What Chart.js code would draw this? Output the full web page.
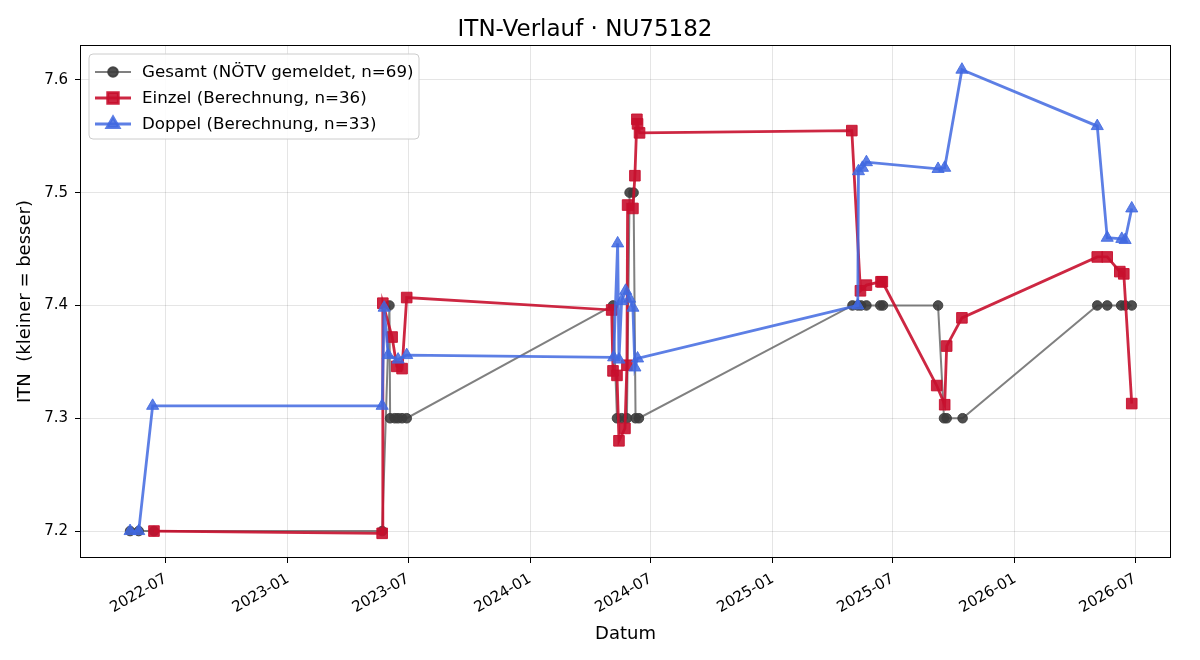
<!DOCTYPE html>
<html><head><meta charset="utf-8">
<script src="https://cdn.jsdelivr.net/npm/chart.js@4.4.1/dist/chart.umd.min.js"></script>
<style>html,body{margin:0;padding:0;background:#fff;}#wrap{width:1200px;height:660px;}</style>
</head><body><div id="wrap"><canvas id="c" width="1200" height="660"></canvas></div>
<script>
// ---------- DATA ----------
const gesamtDates = ['2022-05-08','2022-05-21','2022-06-13','2023-05-23','2023-06-03','2023-06-04','2023-06-11','2023-06-16','2023-06-22','2023-06-29',
  '2024-05-05','2024-05-11','2024-05-18','2024-05-26','2024-05-30','2024-06-05','2024-06-08','2024-06-13',
  '2025-05-01','2025-05-09','2025-05-14','2025-05-22','2025-06-12','2025-06-16','2025-09-07','2025-09-16','2025-09-20','2025-10-14',
  '2026-05-05','2026-05-20','2026-06-10','2026-06-16','2026-06-26'];
const gesamtValues = [7.2,7.2,7.2,7.2,7.4,7.3,7.3,7.3,7.3,7.3,
  7.4,7.3,7.3,7.3,7.5,7.5,7.3,7.3,
  7.4,7.4,7.4,7.4,7.4,7.4,7.4,7.3,7.3,7.3,
  7.4,7.4,7.4,7.4,7.4];

const einzelDates = ['2022-06-13','2023-05-23','2023-05-24','2023-06-07','2023-06-14','2023-06-22','2023-06-29',
  '2024-05-03','2024-05-05','2024-05-11','2024-05-14','2024-05-23','2024-05-26','2024-05-27','2024-06-04','2024-06-07','2024-06-10','2024-06-11','2024-06-14',
  '2025-04-30','2025-05-13','2025-05-22','2025-06-13','2025-06-15','2025-09-05','2025-09-17','2025-09-20','2025-10-13',
  '2026-05-05','2026-05-20','2026-06-08','2026-06-14','2026-06-26'];
const einzelValues = [7.200,7.198,7.402,7.372,7.346,7.344,7.407,
  7.396,7.342,7.338,7.280,7.291,7.347,7.489,7.486,7.515,7.565,7.561,7.553,
  7.555,7.413,7.418,7.421,7.421,7.329,7.312,7.364,7.389,
  7.443,7.443,7.430,7.428,7.313];

const doppelDates = ['2022-05-08','2022-05-21','2022-06-11','2023-05-23','2023-05-26','2023-06-01','2023-06-16','2023-06-29',
  '2024-05-06','2024-05-12','2024-05-14','2024-05-18','2024-05-24','2024-05-30','2024-06-04','2024-06-07','2024-06-11',
  '2025-05-09','2025-05-10','2025-05-16','2025-05-22','2025-09-07','2025-09-17','2025-10-13',
  '2026-05-05','2026-05-20','2026-06-11','2026-06-16','2026-06-26'];
const doppelValues = [7.200,7.200,7.311,7.311,7.398,7.356,7.352,7.356,
  7.354,7.455,7.352,7.404,7.413,7.406,7.398,7.345,7.353,
  7.400,7.519,7.522,7.527,7.521,7.522,7.609,
  7.559,7.460,7.459,7.458,7.486];

const xTickDates = ['2022-07-01','2023-01-01','2023-07-01','2024-01-01','2024-07-01','2025-01-01','2025-07-01','2026-01-01','2026-07-01'];
const yTicks = [7.2,7.3,7.4,7.5,7.6];
const seriesLabels = ['Gesamt (NÖTV gemeldet, n=69)','Einzel (Berechnung, n=36)','Doppel (Berechnung, n=33)'];

// ---------- HELPERS ----------
function ts(s){const [y,m,d]=s.split('-').map(Number);return Date.UTC(y,m-1,d);}
function pts(dates,vals){return dates.map((d,i)=>({x:ts(d),y:vals[i]}));}
function fmtMonth(v){const d=new Date(v);const m=d.getUTCMonth()+1;return d.getUTCFullYear()+'-'+(m<10?'0':'')+m;}

const FONT='DejaVu Sans';
const GRAY_L='rgba(85,85,85,0.75)', GRAY_P='rgba(60,60,60,0.9)';
const RED='rgba(200,16,46,0.9)';
const BLUE='rgba(65,105,225,0.85)';

const framePlugin={id:'frame',afterDatasetsDraw(chart){
  const a=chart.chartArea,ctx=chart.ctx;ctx.save();ctx.strokeStyle='#000';ctx.lineWidth=1;
  ctx.strokeRect(Math.round(a.left)-0.5,Math.round(a.top)-0.5,Math.round(a.right-a.left)+1,Math.round(a.bottom-a.top)+1);ctx.restore();}};

const legendPlugin={id:'boxLegend',afterDraw(chart){
  const a=chart.chartArea,ctx=chart.ctx;
  const x0=a.left+8,y0=a.top+8,w=330,h=85,r=4;
  ctx.save();
  ctx.beginPath();
  ctx.moveTo(x0+r,y0);ctx.lineTo(x0+w-r,y0);ctx.quadraticCurveTo(x0+w,y0,x0+w,y0+r);
  ctx.lineTo(x0+w,y0+h-r);ctx.quadraticCurveTo(x0+w,y0+h,x0+w-r,y0+h);
  ctx.lineTo(x0+r,y0+h);ctx.quadraticCurveTo(x0,y0+h,x0,y0+h-r);
  ctx.lineTo(x0,y0+r);ctx.quadraticCurveTo(x0,y0,x0+r,y0);ctx.closePath();
  ctx.fillStyle='rgba(255,255,255,0.85)';ctx.fill();
  ctx.strokeStyle='#cccccc';ctx.lineWidth=1;ctx.stroke();
  const rows=[y0+18,y0+44,y0+70];
  const ds=chart.data.datasets;
  ds.forEach((d,i)=>{
    const yc=rows[i];
    ctx.strokeStyle=d.borderColor;ctx.lineWidth=d.borderWidth;
    ctx.beginPath();ctx.moveTo(x0+6,yc);ctx.lineTo(x0+42,yc);ctx.stroke();
    ctx.fillStyle=d.pointBackgroundColor;ctx.strokeStyle=d.pointBorderColor;
    Chart.helpers.drawPoint(ctx,{pointStyle:d.pointStyle,radius:d.pointRadius,borderWidth:1,rotation:0},x0+24,yc);
    ctx.fillStyle='#000';ctx.font='16.7px "'+FONT+'"';ctx.textBaseline='middle';ctx.textAlign='left';
    ctx.fillText(d.label,x0+53,yc+1);
  });
  ctx.restore();}};

new Chart(document.getElementById('c'),{
  type:'line',
  data:{datasets:[
    {label:seriesLabels[0],data:pts(gesamtDates,gesamtValues),borderColor:GRAY_L,borderWidth:2,pointStyle:'circle',pointRadius:4.8,
     pointBackgroundColor:GRAY_P,pointBorderColor:GRAY_P,pointBorderWidth:1,tension:0,order:3},
    {label:seriesLabels[1],data:pts(einzelDates,einzelValues),borderColor:RED,borderWidth:2.8,pointStyle:'rect',pointRadius:7.5,
     pointBackgroundColor:RED,pointBorderColor:RED,pointBorderWidth:1,tension:0,order:2},
    {label:seriesLabels[2],data:pts(doppelDates,doppelValues),borderColor:BLUE,borderWidth:2.8,pointStyle:'triangle',pointRadius:7,
     pointBackgroundColor:BLUE,pointBorderColor:BLUE,pointBorderWidth:1,tension:0,order:1}
  ]},
  options:{
    responsive:false,animation:false,devicePixelRatio:1,
    layout:{padding:{left:0,right:30,top:0,bottom:0}},
    plugins:{
      legend:{display:false},tooltip:{enabled:false},
      title:{display:true,text:'ITN-Verlauf · NU75182',color:'#000',font:{family:FONT,size:23,weight:'normal'},padding:{top:16,bottom:2.4}}
    },
    scales:{
      x:{type:'linear',min:ts('2022-02-23'),max:ts('2026-08-22')+16*3600e3,
        afterBuildTicks(s){s.ticks=xTickDates.map(d=>({value:ts(d)}));},
        afterFit(s){s.height=103;},
        border:{display:false},
        grid:{color:'rgba(0,0,0,0.1)',lineWidth:1,tickColor:'#000',tickLength:6,drawTicks:true},
        ticks:{autoSkip:false,minRotation:30,maxRotation:30,padding:7,color:'#000',font:{family:FONT,size:15},callback:v=>fmtMonth(v)},
        title:{display:true,text:'Datum',color:'#000',font:{family:FONT,size:18},padding:{top:0,bottom:15}}
      },
      y:{type:'linear',min:7.177,max:7.630,
        afterBuildTicks(s){s.ticks=yTicks.map(v=>({value:v}));},
        afterFit(s){s.width=81;},
        border:{display:false},
        grid:{color:'rgba(0,0,0,0.1)',lineWidth:1,tickColor:'#000',tickLength:6,drawTicks:true},
        ticks:{padding:7,color:'#000',font:{family:FONT,size:15},callback:v=>Number(v).toFixed(1)},
        title:{display:true,text:'ITN  (kleiner = besser)',color:'#000',font:{family:FONT,size:18},padding:{top:15,bottom:0}}
      }
    }
  },
  plugins:[framePlugin,legendPlugin]
});
</script></body></html>
